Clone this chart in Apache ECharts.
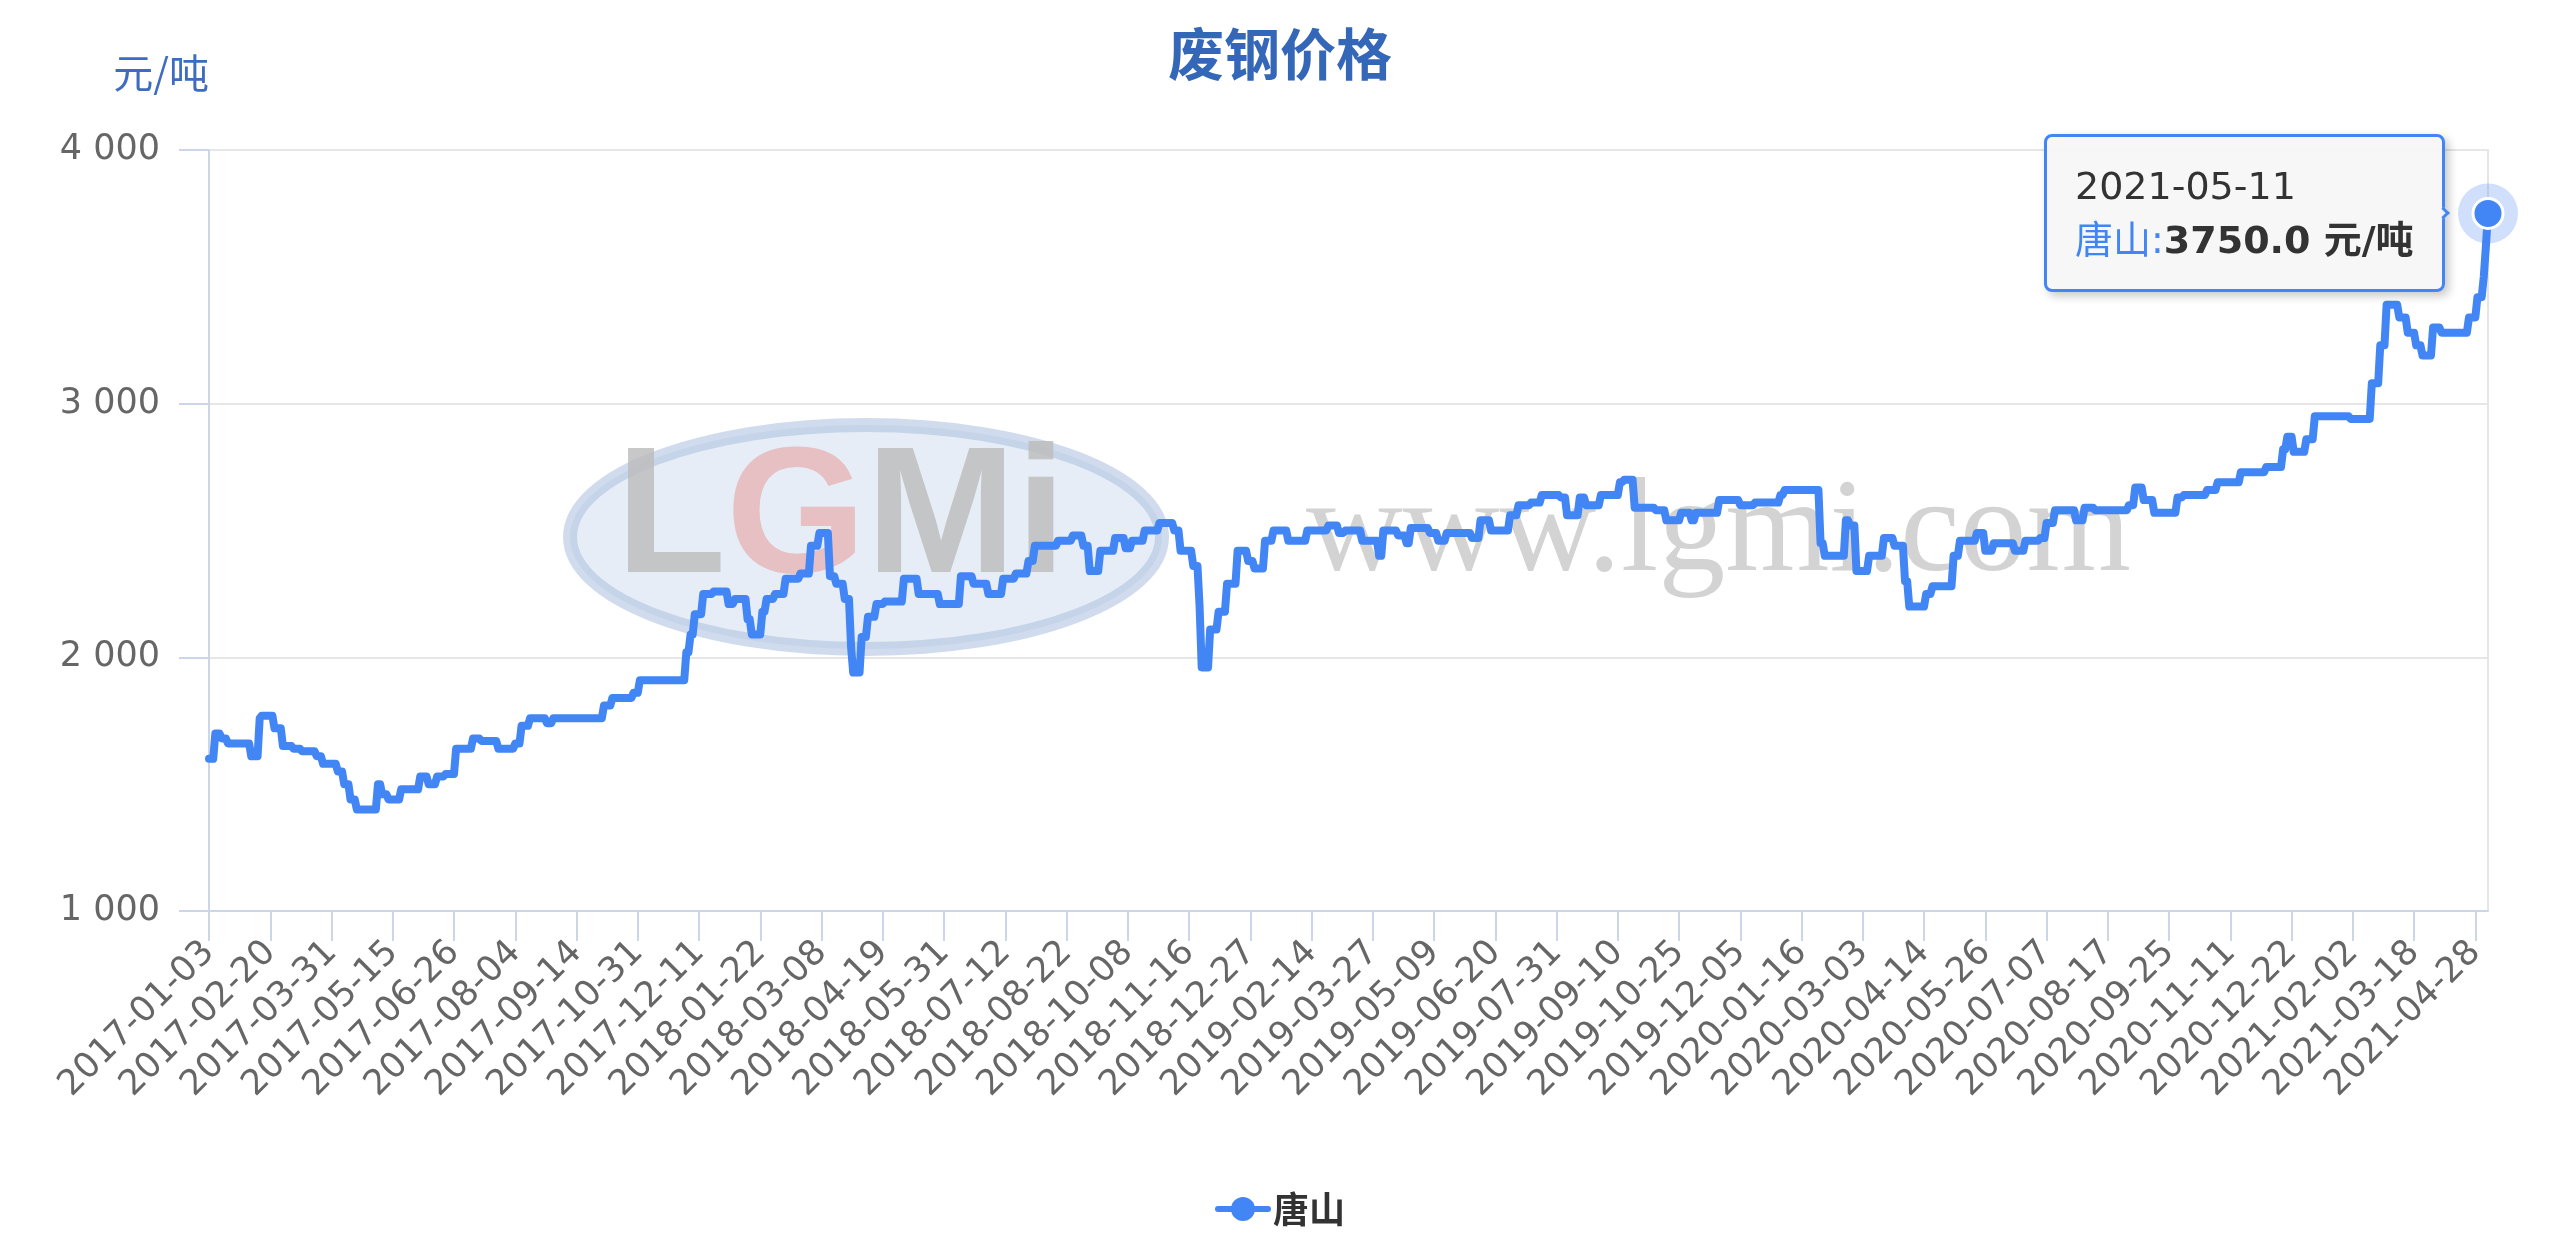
<!DOCTYPE html>
<html>
<head>
<meta charset="utf-8">
<title>废钢价格</title>
<script src="https://cdn.jsdelivr.net/npm/echarts@6/dist/echarts.min.js"></script>
<style>
html, body { margin: 0; padding: 0; background: #ffffff; }
#chart { width: 2560px; height: 1246px; }
</style>
</head>
<body>
<div id="chart"></div>
<script>
// ---------------- data ----------------
const chartTitle = '废钢价格';
const seriesName = '唐山';
const unit = '元/吨';
const firstDate = '2017-01-03';
const lastDate = '2021-05-11';
// weekdays with no quote (market holidays)
const marketHolidays = [
  '2017-01-27','2017-01-30','2017-01-31','2017-02-01','2017-02-02','2017-04-04','2017-05-01','2017-05-30',
  '2017-10-02','2017-10-03','2017-10-04','2017-10-05',
  '2018-01-01','2018-02-15','2018-02-16','2018-02-19','2018-02-20','2018-04-05','2018-05-01','2018-06-18',
  '2018-10-01','2018-10-02','2018-10-03','2018-10-04',
  '2019-01-01','2019-02-04','2019-02-05','2019-02-06','2019-02-07','2019-02-08','2019-04-05','2019-05-01',
  '2019-06-07','2019-10-01','2019-10-02','2019-10-03','2019-10-04',
  '2020-01-01','2020-01-27','2020-01-28','2020-01-29','2020-01-30','2020-04-06','2020-05-01','2020-06-25',
  '2020-10-01','2020-10-02','2020-10-05','2020-10-06',
  '2021-01-01','2021-02-11','2021-02-12','2021-02-15','2021-05-03','2021-05-04','2021-05-05'
];
// price (元/吨) and the number of consecutive trading days it was quoted
const priceRuns = [
  [1600,3],[1700,3],[1680,3],[1660,11],[1610,4],[1760,1],[1770,6],[1720,4],[1650,5],[1640,4],
  [1630,7],[1610,3],[1580,7],[1550,3],[1500,3],[1440,3],[1400,10],[1500,2],[1460,3],[1440,6],
  [1480,9],[1530,4],[1500,4],[1530,4],[1540,5],[1640,8],[1680,4],[1670,8],[1640,8],[1660,3],
  [1730,4],[1760,8],[1740,3],[1760,24],[1810,4],[1840,10],[1860,3],[1910,22],[2020,2],[2090,2],
  [2170,4],[2250,5],[2260,7],[2210,3],[2230,6],[2150,2],[2090,5],[2180,2],[2230,4],[2250,5],
  [2310,7],[2330,5],[2440,4],[2490,5],[2320,3],[2290,4],[2230,3],[2040,1],[1940,4],[2080,3],
  [2160,4],[2210,4],[2220,9],[2310,7],[2250,10],[2210,10],[2320,6],[2290,7],[2250,7],[2310,6],
  [2330,6],[2380,3],[2440,11],[2460,7],[2480,5],[2440,3],[2340,5],[2420,7],[2470,5],[2430,3],
  [2460,6],[2500,7],[2530,7],[2500,3],[2420,6],[2360,3],[2200,1],[1960,4],[2110,4],[2180,4],
  [2290,5],[2420,5],[2380,3],[2350,5],[2460,4],[2500,7],[2460,9],[2500,10],[2520,5],[2490,3],
  [2500,8],[2460,8],[2400,2],[2500,7],[2480,4],[2450,2],[2510,9],[2490,4],[2460,4],[2490,12],
  [2470,4],[2540,5],[2500,9],[2560,4],[2600,6],[2610,5],[2640,9],[2630,3],[2560,6],[2630,3],
  [2600,7],[2640,9],[2690,2],[2700,5],[2590,10],[2580,5],[2540,7],[2570,5],[2540,2],[2570,11],
  [2620,10],[2600,7],[2610,12],[2640,2],[2660,17],[2450,2],[2400,10],[2540,2],[2520,3],[2340,6],
  [2400,7],[2470,5],[2440,5],[2300,2],[2200,8],[2250,3],[2280,10],[2400,3],[2460,8],[2490,4],
  [2420,4],[2450,10],[2420,5],[2460,7],[2470,3],[2530,4],[2580,10],[2540,4],[2590,5],[2580,16],
  [2600,3],[2670,4],[2620,5],[2570,11],[2630,3],[2640,11],[2660,5],[2690,11],[2730,12],[2750,8],
  [2820,2],[2870,3],[2810,6],[2860,4],[2950,17],[2940,10],[3080,4],[3230,3],[3390,6],[3340,4],
  [3280,4],[3230,3],[3190,5],[3300,4],[3280,13],[3340,4],[3420,3],[3500,1],[3620,1],[3750,1]
];
const yTicks = [1000, 2000, 3000, 4000];
const labelEvery = 29; // one date label every 29 trading days

// ---------------- build categories & values ----------------
function fmtDate(d) {
  const y = d.getUTCFullYear(), m = d.getUTCMonth() + 1, dd = d.getUTCDate();
  return y + '-' + (m < 10 ? '0' : '') + m + '-' + (dd < 10 ? '0' : '') + dd;
}
const holidaySet = new Set(marketHolidays);
const categories = [];
for (let t = Date.parse(firstDate + 'T00:00:00Z'); t <= Date.parse(lastDate + 'T00:00:00Z'); t += 86400000) {
  const d = new Date(t);
  const wd = d.getUTCDay();
  if (wd === 0 || wd === 6) continue;
  const s = fmtDate(d);
  if (holidaySet.has(s)) continue;
  categories.push(s);
}
const prices = [];
priceRuns.forEach(function (r) { for (let i = 0; i < r[1]; i++) prices.push(r[0]); });

const lastIdx = prices.length - 1;
const seriesData = prices.map(function (v, i) {
  if (i === lastIdx) {
    return { value: v, symbolSize: 60, itemStyle: { color: 'rgba(66,133,244,0.25)' } };
  }
  return v;
});

// ---------------- chart ----------------
const FONT = '"DejaVu Sans", "Noto Sans CJK SC", sans-serif';
const CJK = '"Noto Sans CJK SC", "DejaVu Sans", sans-serif';
const LINE = '#4285f4';

const chart = echarts.init(document.getElementById('chart'), null, { renderer: 'canvas' });
const option = {
  animation: false,
  backgroundColor: '#ffffff',
  title: {
    text: chartTitle,
    left: 'center',
    top: 26,
    padding: 0,
    textStyle: { fontFamily: CJK, fontSize: 56, fontWeight: 'bold', color: '#3567b9' }
  },
  graphic: [
    {
      type: 'ellipse', z: 1, silent: true,
      shape: { cx: 866, cy: 537, rx: 296, ry: 112 },
      style: { fill: 'rgba(200,215,236,0.45)', stroke: 'rgba(170,192,222,0.55)', lineWidth: 14 }
    },
    {
      type: 'text', z: 1, silent: true, x: 616, y: 522,
      style: {
        text: '{l|L}{g|G}{l|Mi}',
        verticalAlign: 'middle',
        rich: {
          l: { fontFamily: '"Liberation Sans", sans-serif', fontSize: 180, fontWeight: 'bold', fill: 'rgba(188,186,186,0.80)' },
          g: { fontFamily: '"Liberation Sans", sans-serif', fontSize: 180, fontWeight: 'bold', fill: 'rgba(230,176,178,0.75)' }
        }
      }
    },
    {
      type: 'text', z: 1, silent: true, x: 1306, y: 535,
      style: {
        text: 'www.lgmi.com', verticalAlign: 'middle',
        fontFamily: '"Liberation Serif", serif', fontSize: 134, fill: 'rgba(175,175,175,0.55)'
      }
    }
  ],
  grid: {
    left: 209, right: 72, top: 150, bottom: 335,
    show: true, borderColor: '#e6e6e6', borderWidth: 2, backgroundColor: 'transparent'
  },
  legend: {
    data: [seriesName],
    left: 'center',
    top: 1186,
    itemWidth: 50,
    itemHeight: 30,
    lineStyle: { width: 6 },
    textStyle: { fontFamily: CJK, fontSize: 36, fontWeight: 'bold', color: '#333333' }
  },
  tooltip: {
    trigger: 'item',
    triggerOn: 'none',
    alwaysShowContent: true,
    position: 'left',
    transitionDuration: 0,
    backgroundColor: 'rgba(247,247,247,0.95)',
    borderColor: LINE,
    borderWidth: 3,
    padding: [22, 28],
    textStyle: { fontFamily: FONT, fontSize: 38, color: '#333333' },
    extraCssText: 'border-radius:8px;box-shadow:4px 4px 10px rgba(0,0,0,0.22);line-height:54px;',
    formatter: function (p) {
      return p.name + '<br/><span style="color:' + LINE + '">' + p.seriesName + ':</span>' +
        '<b>' + Number(p.value).toFixed(1) + ' ' + unit + '</b>';
    }
  },
  xAxis: {
    type: 'category',
    data: categories,
    boundaryGap: false,
    axisLine: { lineStyle: { color: '#ccd6eb', width: 2 } },
    axisTick: { show: true, interval: labelEvery - 1, length: 30, lineStyle: { color: '#ccd6eb', width: 2 } },
    axisLabel: {
      interval: labelEvery - 1,
      rotate: 45,
      margin: 36,
      fontFamily: FONT,
      fontSize: 35,
      color: '#666666'
    },
    splitLine: { show: false }
  },
  yAxis: {
    type: 'value',
    min: yTicks[0],
    max: yTicks[yTicks.length - 1],
    interval: yTicks[1] - yTicks[0],
    name: unit,
    nameLocation: 'end',
    nameGap: 77,
    nameTextStyle: { fontFamily: CJK, fontSize: 40, color: '#3d6cc0', align: 'right', verticalAlign: 'middle' },
    axisLine: { show: true, lineStyle: { color: '#ccd6eb', width: 2 } },
    axisTick: { show: true, length: 30, lineStyle: { color: '#ccd6eb', width: 2 } },
    axisLabel: {
      margin: 49,
      fontFamily: FONT,
      fontSize: 35,
      color: '#666666',
      formatter: function (v) { return String(v).replace(/\B(?=(\d{3})+(?!\d))/g, ' '); }
    },
    splitLine: { show: true, lineStyle: { color: '#e6e6e6', width: 2 } }
  },
  series: [{
    name: seriesName,
    type: 'line',
    data: seriesData,
    symbol: 'circle',
    symbolSize: 0,
    showSymbol: true,
    showAllSymbol: true,
    z: 2,
    itemStyle: { color: LINE },
    lineStyle: { color: LINE, width: 8, join: 'round', cap: 'round' },
    emphasis: { disabled: true },
    markPoint: {
      symbol: 'circle',
      symbolSize: 30,
      silent: true,
      itemStyle: { color: LINE, borderColor: '#ffffff', borderWidth: 3 },
      label: { show: false },
      data: [{ type: 'max' }]
    }
  }]
};
chart.setOption(option);
function showLastTip() {
  chart.dispatchAction({ type: 'showTip', seriesIndex: 0, dataIndex: lastIdx });
}
showLastTip();
setTimeout(showLastTip, 60);
setTimeout(showLastTip, 300);
</script>
</body>
</html>
